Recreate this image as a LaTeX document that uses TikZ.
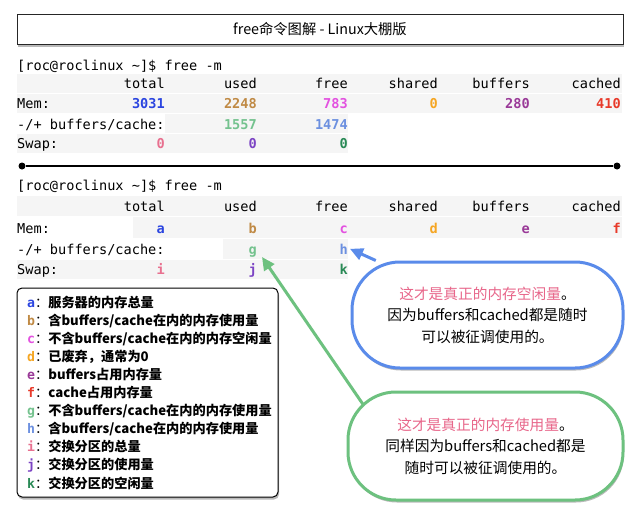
\documentclass[tikz,border=0pt]{standalone}
\usepackage{fontspec}
\setmainfont{Noto Sans CJK SC}
\setmonofont{DejaVu Sans Mono}
\usetikzlibrary{arrows.meta,shadows,backgrounds}
\definecolor{cA}{HTML}{2B45E0}
\definecolor{cB}{HTML}{C08A45}
\definecolor{cC}{HTML}{E352E0}
\definecolor{cD}{HTML}{F5A623}
\definecolor{cE}{HTML}{9A3A98}
\definecolor{cF}{HTML}{E83A2A}
\definecolor{cG}{HTML}{74C28E}
\definecolor{cH}{HTML}{6C90E0}
\definecolor{cI}{HTML}{E8708F}
\definecolor{cJ}{HTML}{7C44C4}
\definecolor{cK}{HTML}{2A8A56}
\definecolor{pinktext}{HTML}{E8668A}
\definecolor{bluebd}{HTML}{5A8BEA}
\definecolor{greenbd}{HTML}{6DC17F}
\definecolor{band}{HTML}{F5F5F5}
\begin{document}
\begin{tikzpicture}[x=1pt,y=-1pt,
  mono/.style={font=\fontsize{13.6}{16}\ttfamily, inner sep=0pt, anchor=base east},
  lab/.style={mono, anchor=base west},
  val/.style={mono, font=\fontsize{13.6}{16}\ttfamily\bfseries},
  shade/.style={drop shadow={shadow xshift=1pt, shadow yshift=-2.5pt, opacity=0.55}},
  titlebox/.style={draw=black!85, line width=0.8pt, fill=white, minimum width=606pt, minimum height=30pt, inner sep=0pt, shade, font=\fontsize{14.3}{16}\selectfont},
  legbox/.style={draw=black, line width=1pt, rounded corners=5pt, fill=white, minimum width=261pt, minimum height=209pt, shade},
  legitem/.style={anchor=base west, inner sep=0pt, font=\fontsize{13.2}{16}\selectfont\bfseries},
  callout/.style={line width=3pt, fill=white, rounded corners=48pt, align=center, shade, font=\fontsize{14.7}{21.5}\selectfont},
  endpt/.style={circle, fill=black, inner sep=0pt, minimum size=7pt},
  conn/.style={line width=3pt, -{Triangle[length=13pt,width=12pt]}}
]
\useasboundingbox (0,0) rectangle (640,522);

% title
\node[titlebox] (title) at (320,29) {free命令图解 - Linux大棚版};

% block 1
\node[lab] (p1) at (17,70) {[roc@roclinux \textasciitilde]\$ free -m};
\node[mono] (h1a) at (165,88) {total};
\node[mono] (h1b) at (257,88) {used};
\node[mono] (h1c) at (348,88) {free};
\node[mono] (h1d) at (438,88) {shared};
\node[mono] (h1e) at (530,88) {buffers};
\node[mono] (h1f) at (621,88) {cached};
\node[lab] (m1) at (17,108) {Mem:};
\node[val, text=cA] (v1a) at (165,108) {3031};
\node[val, text=cB] (v1b) at (257,108) {2248};
\node[val, text=cC] (v1c) at (348,108) {783};
\node[val, text=cD] (v1d) at (438,108) {0};
\node[val, text=cE] (v1e) at (530,108) {280};
\node[val, text=cF] (v1f) at (621,108) {410};
\node[lab] (bc1) at (17,129) {-/+ buffers/cache:};
\node[val, text=cG] (v1g) at (257,129) {1557};
\node[val, text=cH] (v1h) at (348,129) {1474};
\node[lab] (s1) at (17,148) {Swap:};
\node[val, text=cI] (v1i) at (165,148) {0};
\node[val, text=cJ] (v1j) at (257,148) {0};
\node[val, text=cK] (v1k) at (348,148) {0};

% separator
\node[endpt] (sl) at (22,166) {};
\node[endpt] (sr) at (617,166) {};
\draw[line width=2pt] (sl) -- (sr);

% block 2
\node[lab] (p2) at (17,190) {[roc@roclinux \textasciitilde]\$ free -m};
\node[mono] (h2a) at (165,211) {total};
\node[mono] (h2b) at (257,211) {used};
\node[mono] (h2c) at (348,211) {free};
\node[mono] (h2d) at (438,211) {shared};
\node[mono] (h2e) at (530,211) {buffers};
\node[mono] (h2f) at (621,211) {cached};
\node[lab] (m2) at (17,233) {Mem:};
\node[val, text=cA] (an) at (165,233) {a};
\node[val, text=cB] (bn) at (257,233) {b};
\node[val, text=cC] (cn) at (348,233) {c};
\node[val, text=cD] (dn) at (438,233) {d};
\node[val, text=cE] (en) at (530,233) {e};
\node[val, text=cF] (fn) at (621,233) {f};
\node[lab] (bc2) at (17,254) {-/+ buffers/cache:};
\node[val, text=cG] (gn) at (257,254) {g};
\node[val, text=cH] (hn) at (348,254) {h};
\node[lab] (s2) at (17,274) {Swap:};
\node[val, text=cI] (in) at (165,274) {i};
\node[val, text=cJ] (jn) at (257,274) {j};
\node[val, text=cK] (kn) at (348,274) {k};

% legend
\node[legbox] (leg) at (147.5,392.5) {};
\foreach \k/\c/\t [count=\n from 0] in {
  a/cA/服务器的内存总量,
  b/cB/含buffers\slash cache在内的内存使用量,
  c/cC/不含buffers\slash cache在内的内存空闲量,
  d/cD/已废弃，通常为0,
  e/cE/buffers占用内存量,
  f/cF/cache占用内存量,
  g/cG/不含buffers\slash cache在内的内存使用量,
  h/cH/含buffers\slash cache在内的内存使用量,
  i/cI/交换分区的总量,
  j/cJ/交换分区的使用量,
  k/cK/交换分区的空闲量}{
  \node[legitem] (leg\k) at (27,{307+18.1*\n}) {\textcolor{\c}{\ttfamily\bfseries\k}{\mdseries ：}\t};
}

% callouts
\node[callout, draw=bluebd, minimum width=271pt, minimum height=106pt] (blueco) at (487.5,315)
  {\textcolor{pinktext}{这才是真正的内存空闲量}。\\因为buffers和cached都是随时\\可以被征调使用的。};
\node[callout, draw=greenbd, minimum width=275pt, minimum height=108pt] (greenco) at (485.5,446)
  {\textcolor{pinktext}{这才是真正的内存使用量}。\\同样因为buffers和cached都是\\随时可以被征调使用的。};
\coordinate (gtail) at (395,451);

\begin{scope}[on background layer]
  \fill[band] (17,74) rectangle (622,93);
  \fill[band] (17,93.5) rectangle (622,113);
  \fill[band] (165,113.5) rectangle (348,133);
  \fill[band] (17,133.5) rectangle (348,153);
  \fill[band] (17,196) rectangle (622,216);
  \fill[band] (133,217) rectangle (622,238);
  \fill[band] (223,238.5) rectangle (348,259);
  \fill[band] (17,259.5) rectangle (348,279);
  \draw[conn, draw=bluebd, fill=bluebd] (blueco.154) -- ([xshift=2pt]hn.east);
  \draw[conn, draw=greenbd, fill=greenbd] (gtail) -- ([xshift=5pt]gn.south east);
\end{scope}
\end{tikzpicture}
\end{document}
